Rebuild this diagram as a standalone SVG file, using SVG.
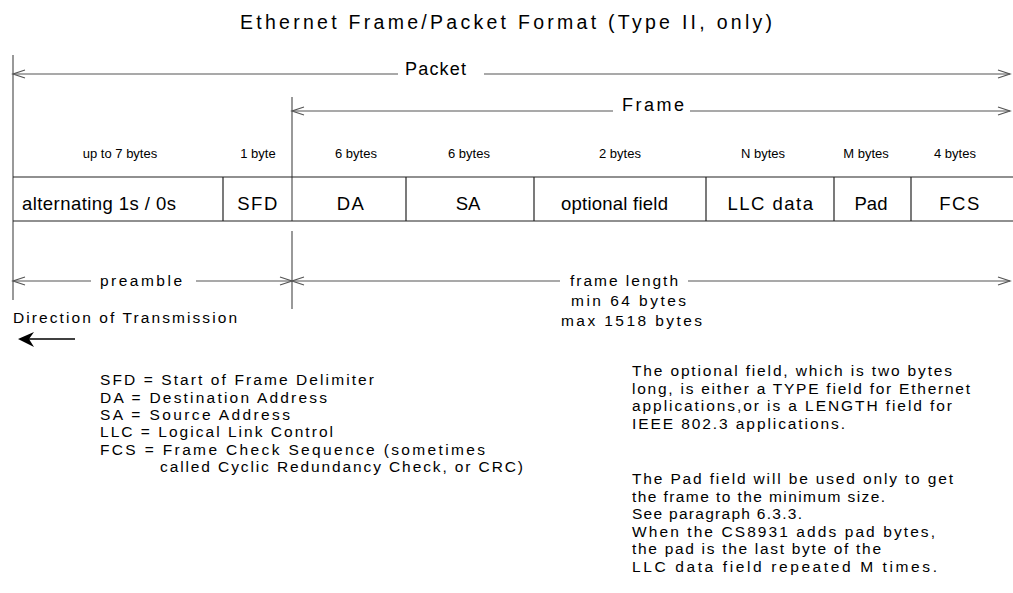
<svg xmlns="http://www.w3.org/2000/svg" width="1013" height="593" viewBox="0 0 1013 593">
<style>
text{font-family:"Liberation Sans",Arial,sans-serif;fill:#000}
.t{font-size:19.5px}
.l{font-size:18px}
.b{font-size:13px;text-anchor:middle}
.f{font-size:18.5px;text-anchor:middle}
.n{font-size:15.5px}
.ln{stroke:#555;stroke-width:1.2;fill:none}
.bx{stroke:#222;stroke-width:1.2;fill:none}
</style>
<rect width="1013" height="593" fill="#fff"/>
<g id="title"><text class="t" x="240" y="29" textLength="532" lengthAdjust="spacing">Ethernet Frame/Packet Format  (Type II, only)</text></g>
<g id="connectors">
<line class="ln" x1="13" y1="55" x2="13" y2="300"/>
<line class="ln" x1="292" y1="97" x2="292" y2="221"/>
<line class="ln" x1="292" y1="231" x2="292" y2="309"/>
<line class="ln" x1="13" y1="74" x2="398" y2="74"/>
<line class="ln" x1="484" y1="74" x2="1010" y2="74"/>
<polyline class="ln" points="25,70 13,74 25,78"/>
<polyline class="ln" points="998,70 1010,74 998,78"/>
<line class="ln" x1="292" y1="111" x2="613" y2="111"/>
<line class="ln" x1="690" y1="111" x2="1010" y2="111"/>
<polyline class="ln" points="304,107 292,111 304,115"/>
<polyline class="ln" points="998,107 1010,111 998,115"/>
<line class="ln" x1="13" y1="281" x2="91" y2="281"/>
<line class="ln" x1="196" y1="281" x2="292" y2="281"/>
<polyline class="ln" points="25,277 13,281 25,285"/>
<polyline class="ln" points="280,277 292,281 280,285"/>
<line class="ln" x1="292" y1="281" x2="560" y2="281"/>
<line class="ln" x1="688" y1="281" x2="1010" y2="281"/>
<polyline class="ln" points="304,277 292,281 304,285"/>
<polyline class="ln" points="998,277 1010,281 998,285"/>
<line stroke="#000" stroke-width="1.3" x1="28" y1="339" x2="75" y2="339"/>
<path d="M18,339 L34,332 L29,339 L34,347 Z" fill="#000"/>
</g>
<g id="labels">
<text class="l" x="405" y="75" textLength="61" lengthAdjust="spacing">Packet</text>
<text class="l" x="622" y="111" textLength="62" lengthAdjust="spacing">Frame</text>
<text class="b" x="120" y="158">up to 7 bytes</text>
<text class="b" x="258" y="158">1 byte</text>
<text class="b" x="356" y="158">6 bytes</text>
<text class="b" x="469" y="158">6 bytes</text>
<text class="b" x="620" y="158">2 bytes</text>
<text class="b" x="763" y="158">N bytes</text>
<text class="b" x="866" y="158">M bytes</text>
<text class="b" x="955" y="158">4 bytes</text>
</g>
<g id="frame-box">
<line class="bx" x1="13" y1="177" x2="1013" y2="177"/>
<line class="bx" x1="13" y1="221" x2="1013" y2="221"/>
<line class="bx" x1="223" y1="177" x2="223" y2="221"/>
<line class="bx" x1="406" y1="177" x2="406" y2="221"/>
<line class="bx" x1="534" y1="177" x2="534" y2="221"/>
<line class="bx" x1="706" y1="177" x2="706" y2="221"/>
<line class="bx" x1="834" y1="177" x2="834" y2="221"/>
<line class="bx" x1="911" y1="177" x2="911" y2="221"/>
</g>
<g id="field-preamble"><text class="f" x="22" y="209.5" text-anchor="start" style="text-anchor:start" textLength="154" lengthAdjust="spacing">alternating 1s / 0s</text></g>
<g id="field-sfd"><text class="f" x="258" y="209.5" letter-spacing="1.5">SFD</text></g>
<g id="field-da"><text class="f" x="351" y="209.5" letter-spacing="1.5">DA</text></g>
<g id="field-sa"><text class="f" x="468" y="209.5">SA</text></g>
<g id="field-optional"><text class="f" x="561" y="209.5" style="text-anchor:start" textLength="107" lengthAdjust="spacing">optional field</text></g>
<g id="field-llc"><text class="f" x="771" y="209.5" letter-spacing="1.5">LLC data</text></g>
<g id="field-pad"><text class="f" x="871" y="209.5">Pad</text></g>
<g id="field-fcs"><text class="f" x="960" y="209.5" letter-spacing="1.5">FCS</text></g>
<g id="preamble-label"><text class="n" x="100" y="286" textLength="82" lengthAdjust="spacing">preamble</text></g>
<g id="frame-length-label">
<text class="n" x="570" y="286" textLength="108" lengthAdjust="spacing">frame length</text>
<text class="n" x="571" y="306" textLength="115" lengthAdjust="spacing">min  64 bytes</text>
<text class="n" x="561" y="326" textLength="141" lengthAdjust="spacing">max  1518 bytes</text>
</g>
<g id="direction"><text class="n" x="13" y="323" textLength="224" lengthAdjust="spacing">Direction of Transmission</text></g>
<g id="legend">
<text class="n" x="100" y="385" textLength="274" lengthAdjust="spacing">SFD = Start of Frame Delimiter</text>
<text class="n" x="100" y="403" textLength="227" lengthAdjust="spacing">DA = Destination Address</text>
<text class="n" x="100" y="420" textLength="190" lengthAdjust="spacing">SA = Source Address</text>
<text class="n" x="100" y="437" textLength="233" lengthAdjust="spacing">LLC = Logical Link Control</text>
<text class="n" x="100" y="455" textLength="385" lengthAdjust="spacing">FCS = Frame Check Sequence (sometimes</text>
<text class="n" x="160" y="472" textLength="363" lengthAdjust="spacing">called Cyclic Redundancy Check, or CRC)</text>
</g>
<g id="notes">
<text class="n" x="632" y="376" textLength="320" lengthAdjust="spacing">The optional field, which is two bytes</text>
<text class="n" x="632" y="394" textLength="338" lengthAdjust="spacing">long, is either a TYPE field for Ethernet</text>
<text class="n" x="632" y="411" textLength="320" lengthAdjust="spacing">applications,or is a LENGTH field for</text>
<text class="n" x="632" y="429" textLength="213" lengthAdjust="spacing">IEEE 802.3 applications.</text>
<text class="n" x="632" y="484" textLength="321" lengthAdjust="spacing">The Pad field will be used only to get</text>
<text class="n" x="632" y="502" textLength="253" lengthAdjust="spacing">the frame to the minimum size.</text>
<text class="n" x="632" y="519" textLength="170" lengthAdjust="spacing">See paragraph 6.3.3.</text>
<text class="n" x="632" y="537" textLength="303" lengthAdjust="spacing">When the CS8931 adds pad bytes,</text>
<text class="n" x="632" y="554" textLength="249" lengthAdjust="spacing">the pad is the last byte of the</text>
<text class="n" x="632" y="572" textLength="305" lengthAdjust="spacing">LLC data field repeated M times.</text>
</g>
</svg>
